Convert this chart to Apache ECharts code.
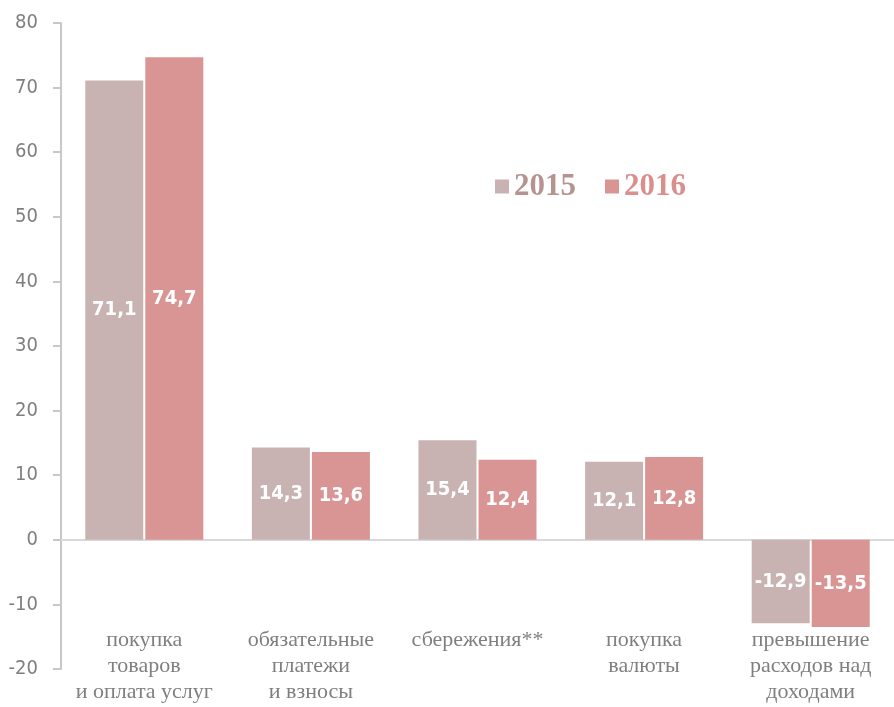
<!DOCTYPE html>
<html>
<head>
<meta charset="utf-8">
<script src="https://cdn.jsdelivr.net/npm/echarts@6/dist/echarts.min.js"></script>
<style>
  html, body { margin: 0; padding: 0; background: #fff; }
  #chart { width: 894px; height: 707px; }
</style>
</head>
<body>
<div id="chart"></div>
<script>
// data
var categories = ['покупка\nтоваров\nи оплата услуг', 'обязательные\nплатежи\nи взносы', 'сбережения**', 'покупка\nвалюты', 'превышение\nрасходов над\nдоходами'];
var values2015 = [71.1, 14.3, 15.4, 12.1, -12.9];
var values2016 = [74.7, 13.6, 12.4, 12.8, -13.5];
var yTicks = { min: -20, max: 80, interval: 10 };

var narrow = '"Liberation Sans Narrow", "DejaVu Sans Condensed", sans-serif';
var serif = '"Liberation Serif", "DejaVu Serif", serif';

var myChart = echarts.init(document.getElementById('chart'));

var barLabel = {
    show: true,
    position: 'inside',
    color: '#fff',
    fontFamily: narrow,
    fontWeight: 'bold',
    fontSize: 20,
    formatter: function (p) { return String(p.value).replace('.', ','); }
};

option = {
    animation: false,
    grid: { left: 61, right: 0, top: 23, bottom: 38 },
    legend: [
        {
            data: ['2015'], left: 490, top: 166, icon: 'rect', itemWidth: 14, itemHeight: 14, itemGap: 8,
            textStyle: { color: '#b59391', fontFamily: serif, fontWeight: 'bold', fontSize: 31 }
        },
        {
            data: ['2016'], left: 600, top: 166, icon: 'rect', itemWidth: 14, itemHeight: 14,
            textStyle: { color: '#d98f8d', fontFamily: serif, fontWeight: 'bold', fontSize: 31 }
        }
    ],
    xAxis: [
        {
            type: 'category',
            data: categories,
            axisLine: { onZero: true, lineStyle: { color: '#d9d9d9', width: 2 } },
            axisTick: { show: false },
            axisLabel: { show: false }
        },
        {
            type: 'category',
            data: categories,
            position: 'bottom',
            offset: -50,
            axisLine: { show: false },
            axisTick: { show: false },
            axisLabel: {
                interval: 0,
                margin: 8,
                verticalAlign: 'top',
                color: '#7f7f7f',
                fontFamily: serif,
                fontSize: 22,
                lineHeight: 26
            }
        }
    ],
    yAxis: {
        type: 'value',
        min: yTicks.min,
        max: yTicks.max,
        interval: yTicks.interval,
        axisLine: { show: true, lineStyle: { color: '#c8c8c8', width: 2 } },
        axisTick: { show: true, length: 8, lineStyle: { color: '#c8c8c8', width: 2 } },
        splitLine: { show: false },
        axisLabel: { color: '#7f7f7f', fontFamily: narrow, fontSize: 20, margin: 23 }
    },
    series: [
        {
            name: '2015', type: 'bar', data: values2015, barWidth: 58, barGap: '3.5%',
            itemStyle: { color: '#c8b3b2' }, label: barLabel
        },
        {
            name: '2016', type: 'bar', data: values2016, barWidth: 58,
            itemStyle: { color: '#d99594' }, label: barLabel
        }
    ]
};

myChart.setOption(option, true);
</script>
</body>
</html>
